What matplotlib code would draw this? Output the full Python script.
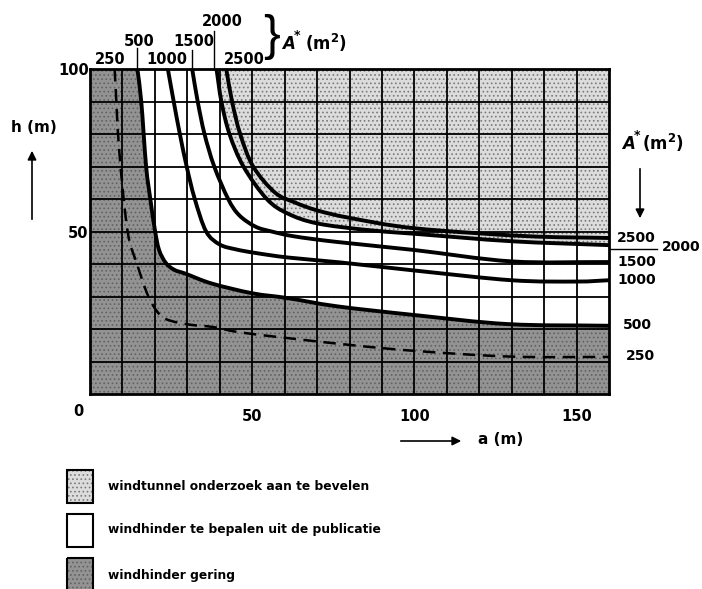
import numpy as np
import matplotlib
matplotlib.use("Agg")
import matplotlib.pyplot as plt
from matplotlib.patches import Rectangle, PathPatch
from matplotlib.path import Path

# ---------- DATA (a in m, h in m) ----------
A_LABELS = ["250", "500", "1000", "1500", "2000", "2500"]

a_250 = [7.6, 9.0, 11.6, 14.5, 18.0, 21.6, 25.0, 31.0, 38.0, 46.0, 61.0, 81.0, 101.0, 130.0, 160.0]
h_250 = [100, 75, 50, 40, 30, 24.3, 22.5, 21.3, 20.6, 19.0, 17.2, 15.0, 13.2, 11.5, 11.4]

a_500 = [14.6, 15.8, 17.3, 18.6, 20.0, 21.3, 23.4, 26.0, 29.5, 37.5, 50.0, 61.0, 76.0, 100.0, 129.0, 160.0]
h_500 = [100, 90, 70, 60, 50.5, 44.3, 40.3, 38.2, 37.0, 34.0, 31.0, 29.5, 27.0, 24.3, 21.5, 21.0]

a_1000 = [24.0, 25.8, 27.7, 29.8, 32.3, 35.8, 40.0, 45.0, 51.0, 61.0, 77.0, 100.0, 130.0, 150.0, 160.0]
h_1000 = [100, 90, 80, 70, 60, 50, 46.0, 44.5, 43.4, 42.0, 40.5, 38.0, 35.0, 34.6, 35.0]

a_1500 = [31.5, 33.2, 35.3, 38.3, 42.6, 46.0, 51.0, 56.0, 63.0, 76.0, 100.0, 130.0, 160.0]
h_1500 = [100, 90, 80, 70, 60, 55, 51.5, 50.0, 48.5, 46.8, 44.3, 40.8, 40.6]

a_2000 = [39.0, 40.5, 43.0, 47.3, 54.5, 61.0, 70.0, 85.0, 100.0, 130.0, 160.0]
h_2000 = [100, 90, 80, 70, 60, 55.5, 52.5, 50.5, 49.3, 47.0, 45.8]

a_2500 = [42.0, 43.8, 46.3, 50.3, 57.0, 63.0, 70.0, 80.0, 100.0, 134.0, 160.0]
h_2500 = [100, 90, 80, 70, 62.0, 59.0, 56.5, 54.2, 51.0, 48.6, 48.0]

X_TICKS = [50, 100, 150]
Y_TICKS = [50, 100]

LEGEND_TEXT = ["windtunnel onderzoek aan te bevelen",
               "windhinder te bepalen uit de publicatie",
               "windhinder gering"]

C_DARK = "#939393"; C_LIGHT = "#dcdcdc"
E_DARK = "#626262"; E_LIGHT = "#7a7a7a"
plt.rcParams.update({"font.family": "DejaVu Sans", "font.weight": "bold",
                     "hatch.linewidth": 0.7})


def curve_parts(a, h):
    """Smooth Bezier pieces (Catmull-Rom) through the read points."""
    p = np.column_stack([a, h]).astype(float)
    ext = np.vstack([2 * p[0] - p[1], p, 2 * p[-1] - p[-2]])
    verts, codes = [], []
    for i in range(1, len(ext) - 2):
        p0, p1, p2, p3 = ext[i - 1], ext[i], ext[i + 1], ext[i + 2]
        verts += [p1 + (p2 - p0) / 6, p2 - (p3 - p1) / 6, p2]
        codes += [Path.CURVE4] * 3
    return p[0], verts, codes


def curve_path(a, h):
    start, v, c = curve_parts(a, h)
    return Path([start] + v, [Path.MOVETO] + c)


def region_path(before, a, h, after):
    start, v, c = curve_parts(a, h)
    verts = before + [start] + v + after + [before[0]]
    codes = ([Path.MOVETO] + [Path.LINETO] * len(before) + c
             + [Path.LINETO] * len(after) + [Path.CLOSEPOLY])
    return Path(verts, codes)


W, H = 702, 589
fig = plt.figure(figsize=(W / 100, H / 100), dpi=100)
ax = fig.add_axes([90 / W, 1 - 394 / H, (609 - 90) / W, (394 - 69) / H])
ax.set_xlim(0, 160); ax.set_ylim(0, 100)

# regions
ax.add_patch(PathPatch(region_path([(0, 0), (0, 100)], a_500, h_500, [(160, 0)]),
                       facecolor=C_DARK, edgecolor=E_DARK, hatch="....", lw=0, zorder=1))
ax.add_patch(PathPatch(region_path([(160, 100)], a_2000, h_2000, []),
                       facecolor=C_LIGHT, edgecolor=E_LIGHT, hatch="....", lw=0, zorder=1))

# grid
for x in range(10, 160, 10):
    ax.axvline(x, color="k", lw=1.3, zorder=2)
for y in range(10, 100, 10):
    ax.axhline(y, color="k", lw=1.3, zorder=2)

# curves
ax.add_patch(PathPatch(curve_path(a_250, h_250), fill=False, edgecolor="k",
                       lw=1.8, ls=(0, (5, 3)), zorder=3))
for a, h in [(a_500, h_500), (a_1000, h_1000), (a_1500, h_1500),
             (a_2000, h_2000), (a_2500, h_2500)]:
    ax.add_patch(PathPatch(curve_path(a, h), fill=False, edgecolor="k",
                           lw=2.8, capstyle="butt", zorder=3))

for s in ax.spines.values():
    s.set_linewidth(2); s.set_zorder(4)
ax.set_xticks(X_TICKS); ax.set_yticks(Y_TICKS)
ax.set_xticklabels([str(v) for v in X_TICKS], fontsize=10.5, fontweight="bold")
ax.set_yticklabels([str(v) for v in Y_TICKS], fontsize=10.5, fontweight="bold")
ax.tick_params(axis="x", length=0, pad=11)
ax.tick_params(axis="y", length=0, pad=1)

# ---------- overlay in pixel coordinates ----------
ov = fig.add_axes([0, 0, 1, 1], zorder=5)
ov.set_xlim(0, W); ov.set_ylim(H, 0); ov.axis("off")
ov.patch.set_alpha(0)

tk = dict(fontsize=10.5, fontweight="bold", ha="center", va="center")
ov.text(78, 412, "0", **tk)

# top labels
top_pos = [(110, 59), (139, 42), (167, 59), (194, 42), (222, 22), (244, 59)]
for lab, (x, y) in zip(A_LABELS, top_pos):
    ov.text(x, y, lab, **tk)
for x, y0 in [(137, 48), (192, 50), (214, 31)]:
    ov.plot([x, x], [y0, 69], color="k", lw=1)
ov.text(272, 37, "}", fontsize=36, fontweight="light", family="Liberation Sans",
        ha="center", va="center")
ov.text(282, 44, "A", fontsize=12, fontweight="bold", fontstyle="italic", ha="left", va="center")
ov.text(294, 35, "*", fontsize=9, fontweight="bold", ha="left", va="center")
ov.text(305, 43, "(m$^{2}$)", fontsize=12, fontweight="bold", ha="left", va="center")

# right labels
right_pos = [(626, 356), (623, 325), (617, 280), (617, 262), (662, 247), (617, 238)]
for lab, (x, y) in zip(A_LABELS, right_pos):
    ov.text(x, y, lab, fontsize=10, fontweight="bold", ha="left", va="center")
ov.plot([610, 657], [249, 249], color="k", lw=1)
ov.text(622, 144, "A", fontsize=12, fontweight="bold", fontstyle="italic", ha="left", va="center")
ov.text(634, 135, "*", fontsize=9, fontweight="bold", ha="left", va="center")
ov.text(642, 143, "(m$^{2}$)", fontsize=12, fontweight="bold", ha="left", va="center")

# axis titles and arrows
arw = dict(arrowstyle="-|>", lw=1.2, color="k", mutation_scale=13)
ov.text(34, 128, "h (m)", fontsize=11, fontweight="bold", ha="center", va="center")
ov.annotate("", xy=(32, 148), xytext=(32, 222), arrowprops=arw)
ov.annotate("", xy=(640, 221), xytext=(640, 166), arrowprops=arw)
ov.annotate("", xy=(464, 441), xytext=(398, 441), arrowprops=arw)
ov.text(478, 440, "a (m)", fontsize=11, fontweight="bold", ha="left", va="center")

# legend
styles = [dict(facecolor=C_LIGHT, edgecolor=E_LIGHT, hatch="...."),
          dict(facecolor="white"),
          dict(facecolor=C_DARK, edgecolor=E_DARK, hatch="....")]
box_y = [470, 514, 558]
txt_y = [487, 530, 575]
for st, by, ty, lab in zip(styles, box_y, txt_y, LEGEND_TEXT):
    ov.add_patch(Rectangle((67, by), 26, 33, lw=0, **st))
    ov.add_patch(Rectangle((67, by), 26, 33, fill=False, edgecolor="k", lw=1.5))
    ov.text(108, ty, lab, fontsize=8.8, fontweight="bold", ha="left", va="center")

fig.savefig("out.png", dpi=100)
